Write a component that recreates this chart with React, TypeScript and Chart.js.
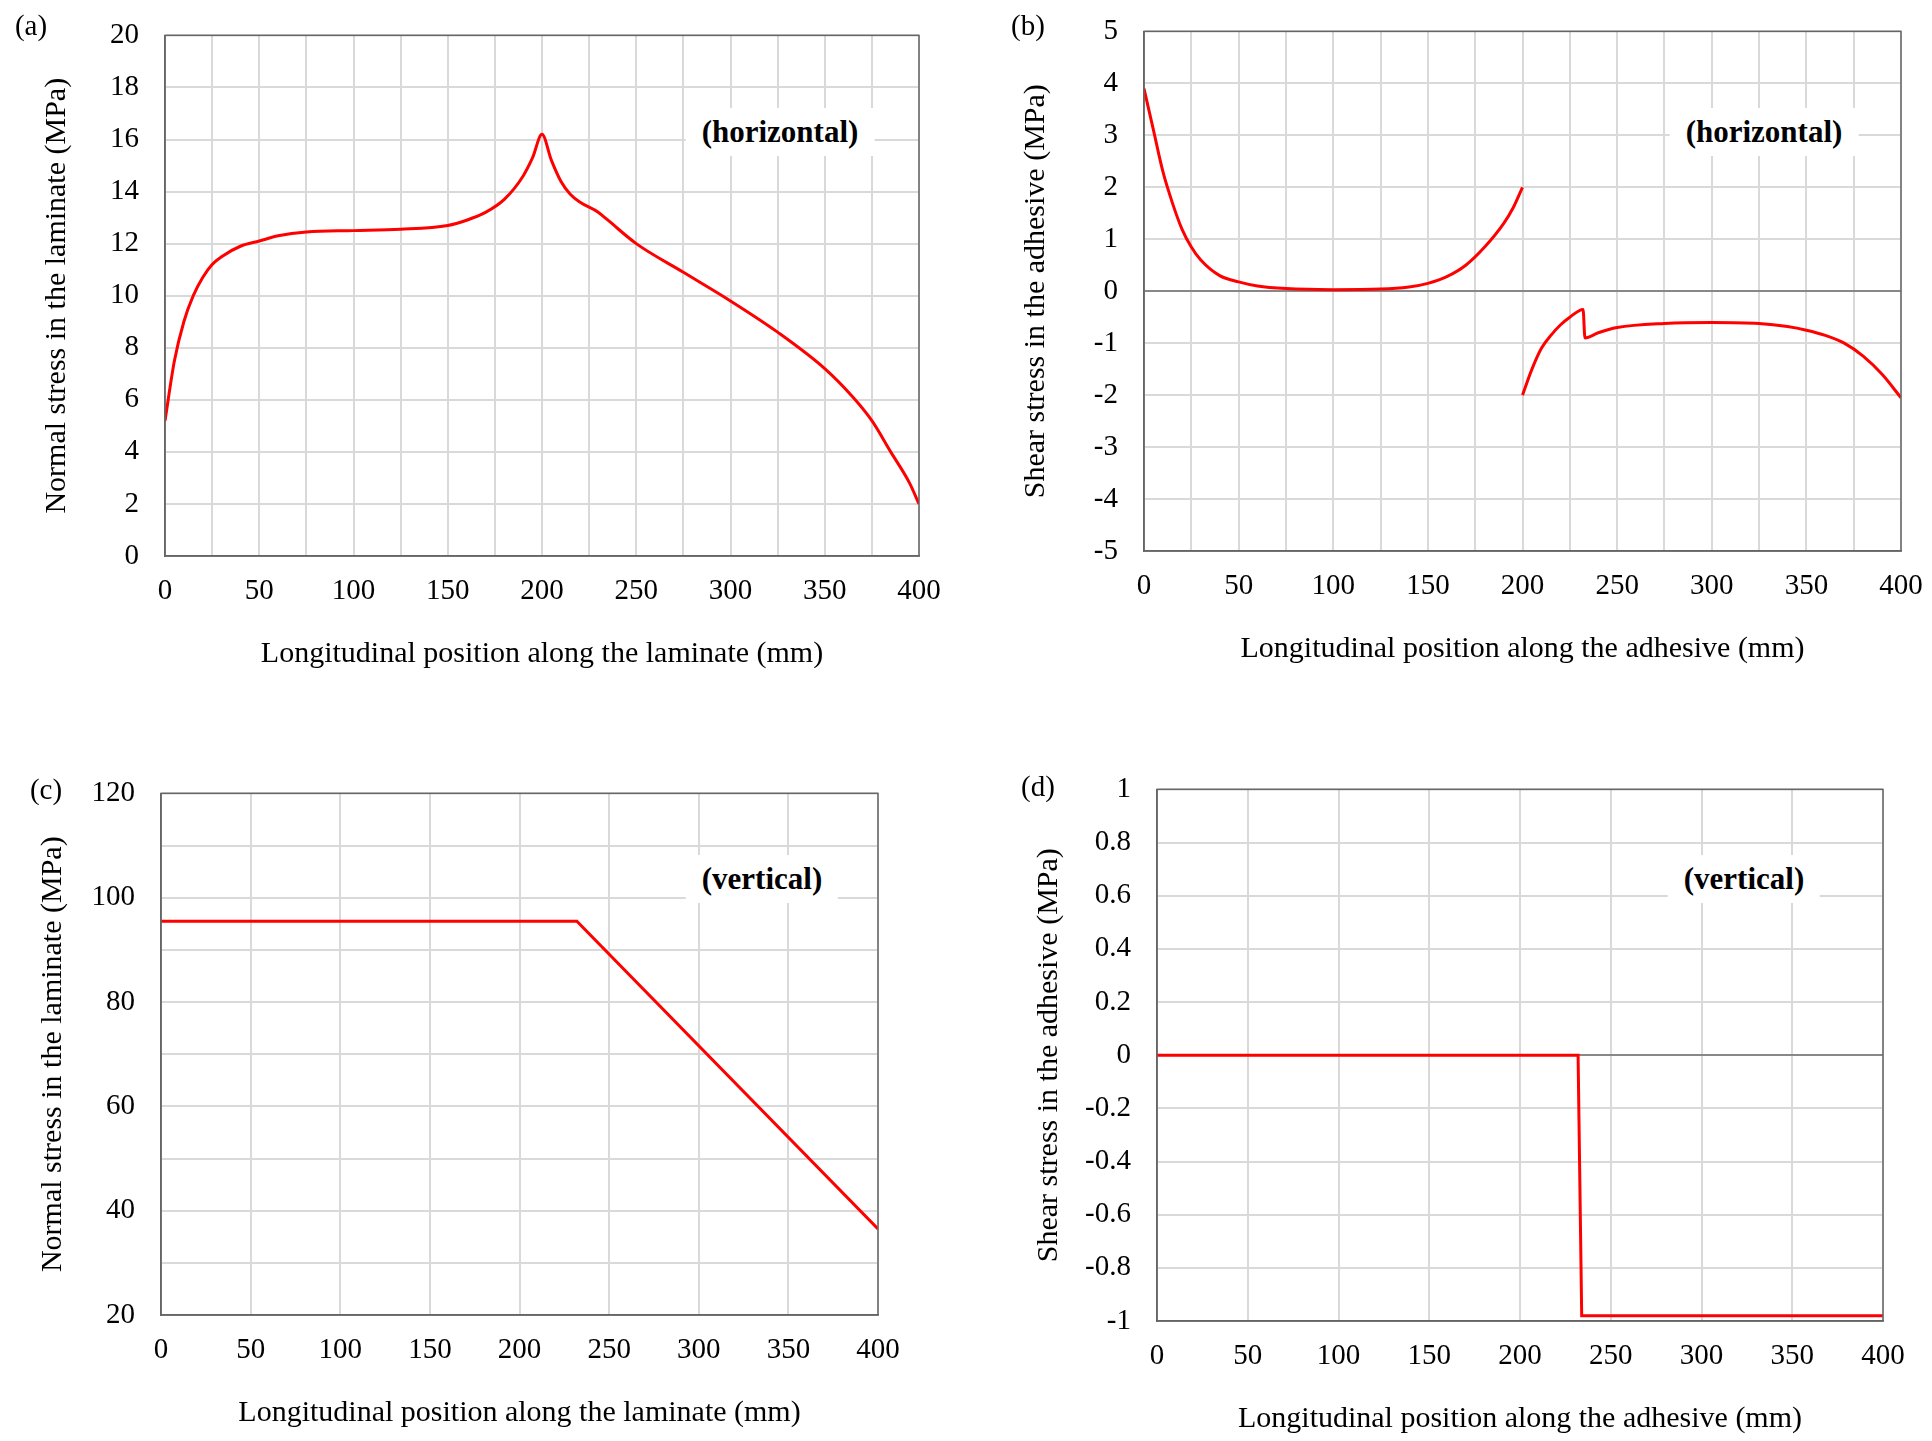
import React, { useEffect, useRef } from "react";
import { Chart, registerables } from "chart.js";
Chart.register(...registerables);

const aX = [0, 5, 10, 15, 20, 25, 30, 40, 50, 60, 75, 100, 125, 150, 160, 170, 180, 190, 195, 200, 205, 210, 215, 220, 230, 235, 250, 275, 300, 325, 350, 365, 375, 385, 395, 400];
const aY = [5.2, 7.5, 9, 10, 10.7, 11.2, 11.5, 11.9, 12.1, 12.3, 12.45, 12.5, 12.55, 12.7, 12.9, 13.2, 13.7, 14.6, 15.3, 16.2, 15.2, 14.4, 13.9, 13.6, 13.2, 12.9, 12.0, 10.9, 9.8, 8.6, 7.2, 6.1, 5.2, 4.0, 2.8, 2.0];
const bX = [0, 5, 10, 15, 20, 25, 30, 40, 50, 60, 75, 100, 125, 140, 150, 160, 170, 180, 190, 195, 200, 200, 200, 205, 210, 215, 220, 225, 232, 233, 240, 250, 275, 300, 325, 340, 350, 360, 370, 380, 390, 400];
const bY: (number | null)[] = [3.9, 3.1, 2.3, 1.7, 1.2, 0.85, 0.6, 0.3, 0.18, 0.1, 0.05, 0.03, 0.04, 0.08, 0.15, 0.28, 0.5, 0.85, 1.3, 1.6, 2.0, null, -2.0, -1.5, -1.1, -0.85, -0.65, -0.5, -0.35, -0.9, -0.8, -0.7, -0.62, -0.6, -0.62, -0.68, -0.75, -0.85, -1.0, -1.25, -1.6, -2.05];
const cX = [0, 232, 400];
const cY = [95.5, 95.5, 36.5];
const dX = [0, 232, 234, 400];
const dY = [0, 0, -0.98, -0.98];

const FONT = "'Liberation Serif', 'Times New Roman', serif";

type Cfg = {
  xs: number[]; ys: (number | null)[]; ymin: number; ymax: number; ystep: number; ygrid: number;
  ytitle: string; xtitle: string; rect: [number, number, number, number]; dec?: number; smooth: boolean;
};

const LW = 130, TP = 20, RP = 45, BH = 120, EXTRA = 19;

function Panel({ c }: { c: Cfg }) {
  const ref = useRef<HTMLCanvasElement>(null);
  useEffect(() => {
    const frame = {
      id: "frame",
      afterDraw(ch: any) {
        const a = ch.chartArea, ctx = ch.ctx;
        ctx.save(); ctx.strokeStyle = "#666"; ctx.lineWidth = 1.5;
        ctx.strokeRect(a.left, a.top, a.right - a.left, a.bottom - a.top);
        ctx.restore();
      },
    };
    const ch = new Chart(ref.current!, {
      type: "line",
      data: {
        datasets: [{
          data: c.xs.map((x, i) => ({ x, y: c.ys[i] })) as any,
          borderColor: "#ff0000", borderWidth: 3, pointRadius: 0,
          tension: c.smooth ? 0.4 : 0,
          cubicInterpolationMode: c.smooth ? "monotone" : "default",
          spanGaps: false,
        }],
      },
      options: {
        animation: false, responsive: false,
        layout: { padding: { top: TP, right: RP, left: 0, bottom: 0 } },
        plugins: { legend: { display: false }, tooltip: { enabled: false } },
        scales: {
          x: {
            type: "linear", min: 0, max: 400,
            ticks: { stepSize: 25, padding: 18, color: "#000", font: { family: FONT, size: 29 }, maxRotation: 0,
              callback: (v: any) => (v % 50 === 0 ? String(v) : "") },
            grid: { color: "#d9d9d9", lineWidth: 2, drawTicks: false },
            border: { color: "#666", width: 1.5 },
            title: { display: true, text: c.xtitle, color: "#000", font: { family: FONT, size: 30 }, padding: { top: 20 } },
            afterFit: (s: any) => { s.height = BH; },
          },
          y: {
            min: c.ymin, max: c.ymax,
            ticks: { stepSize: c.ygrid, padding: 26, color: "#000", font: { family: FONT, size: 29 },
              callback: (v: any) => {
                const r = Math.round(v / c.ystep) * c.ystep;
                if (Math.abs(r - v) > 1e-6) return "";
                return c.dec ? Number(v.toFixed(1)).toString() : String(Math.round(v));
              } },
            grid: {
              color: (ctx: any) => (Math.abs(ctx.tick.value) < 1e-9 && c.ymin < 0 ? "#888" : "#d9d9d9"),
              lineWidth: 2, drawTicks: false,
            },
            border: { color: "#666", width: 1.5 },
            title: { display: true, text: c.ytitle, color: "#000", font: { family: FONT, size: 30 }, padding: { bottom: 4 } },
            afterFit: (s: any) => { s.width = LW; },
          },
        },
      } as any,
      plugins: [frame],
    });
    return () => ch.destroy();
  }, []);
  const [l, t, r, b] = c.rect;
  const w = r - l + LW + RP, h = b - t + TP + BH + EXTRA;
  return <canvas ref={ref} width={w} height={h}
    style={{ position: "absolute", left: l - LW, top: t - TP - EXTRA, width: w, height: h }} />;
}

const panels: Cfg[] = [
  { xs: aX, ys: aY, ymin: 0, ymax: 20, ystep: 2, ygrid: 2, ytitle: "Normal stress in the laminate (MPa)", xtitle: "Longitudinal position along the laminate (mm)", rect: [165, 31, 919, 556], smooth: true },
  { xs: bX, ys: bY, ymin: -5, ymax: 5, ystep: 1, ygrid: 1, ytitle: "Shear stress in the adhesive (MPa)", xtitle: "Longitudinal position along the adhesive (mm)", rect: [1144, 27, 1901, 551], smooth: true },
  { xs: cX, ys: cY, ymin: 20, ymax: 120, ystep: 20, ygrid: 10, ytitle: "Normal stress in the laminate (MPa)", xtitle: "Longitudinal position along the laminate (mm)", rect: [161, 789, 878, 1315], smooth: false },
  { xs: dX, ys: dY, ymin: -1, ymax: 1, ystep: 0.2, ygrid: 0.2, ytitle: "Shear stress in the adhesive (MPa)", xtitle: "Longitudinal position along the adhesive (mm)", rect: [1157, 785, 1883, 1321], dec: 1, smooth: false },
];

const labels: [string, number, number][] = [["(a)", 31, 25], ["(b)", 1028, 25], ["(c)", 46, 789], ["(d)", 1038, 786]];
const notes: [string, number, number][] = [["(horizontal)", 780, 132], ["(horizontal)", 1764, 132], ["(vertical)", 762, 879], ["(vertical)", 1744, 879]];

export default function App() {
  return (
    <div style={{ position: "fixed", left: 0, top: 0, width: 1932, height: 1441, background: "#fff", fontFamily: FONT }}>
      {panels.map((p, i) => <Panel key={i} c={p} />)}
      {labels.map(([t, x, y], i) => (
        <div key={"l" + i} style={{ position: "absolute", left: x, top: y, transform: "translate(-50%,-50%)", fontSize: 29 }}>{t}</div>
      ))}
      {notes.map(([t, x, y], i) => (
        <div key={"n" + i} style={{ position: "absolute", left: x, top: y, transform: "translate(-50%,-50%)", fontSize: 31, fontWeight: "bold", background: "#fff", padding: "6px 16px", whiteSpace: "nowrap" }}>{t}</div>
      ))}
    </div>
  );
}
